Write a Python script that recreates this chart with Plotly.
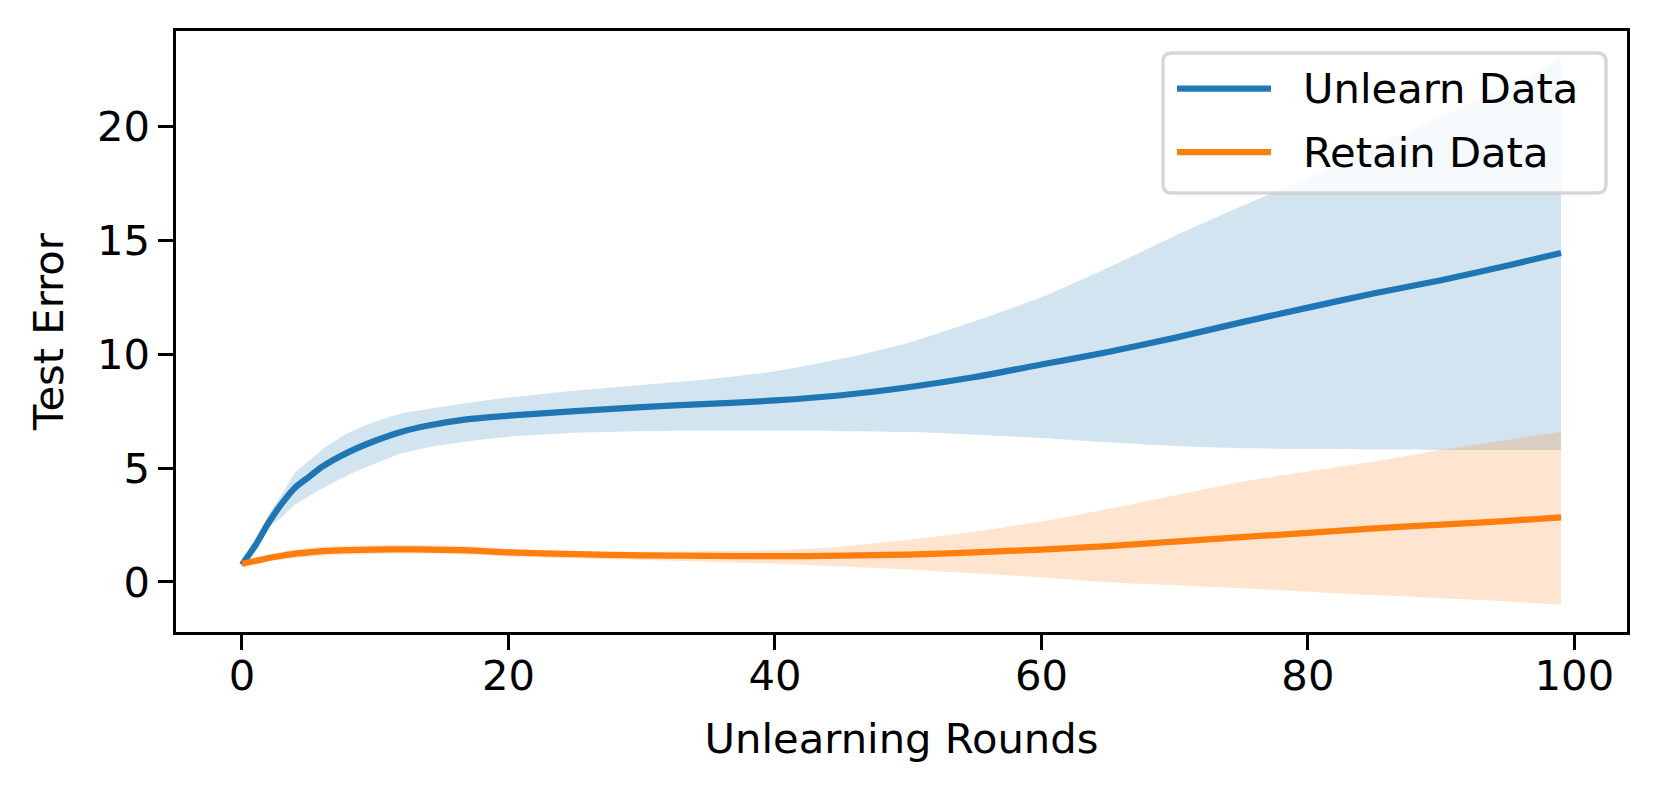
import plotly.graph_objects as go

# ---- data ----
rounds = [0, 1, 2, 3, 4, 5, 6, 8, 10, 12, 14, 17, 20, 25, 30, 35, 40, 45, 50,
          55, 60, 65, 70, 75, 80, 85, 90, 95, 99]

unlearn_mean = [0.75, 1.6, 2.6, 3.45, 4.15, 4.6, 5.05, 5.7, 6.2, 6.6, 6.87, 7.15, 7.3,
                7.5, 7.68, 7.82, 7.97, 8.2, 8.55, 9.0, 9.55, 10.1, 10.72, 11.4,
                12.05, 12.68, 13.25, 13.9, 14.45]
unlearn_upper = [0.8, 1.8, 2.95, 3.85, 4.8, 5.3, 5.8, 6.55, 7.05, 7.4, 7.6, 7.87, 8.1,
                 8.4, 8.65, 8.9, 9.25, 9.8, 10.5, 11.45, 12.5, 13.8, 15.2, 16.5,
                 17.75, 19.1, 20.45, 21.75, 23.0]
unlearn_lower = [0.65, 1.5, 2.4, 2.85, 3.4, 3.75, 4.1, 4.7, 5.2, 5.65, 5.92, 6.18, 6.38,
                 6.55, 6.62, 6.65, 6.65, 6.62, 6.58, 6.47, 6.32, 6.13, 5.97, 5.87,
                 5.84, 5.82, 5.8, 5.79, 5.79]

retain_mean = [0.8, 0.92, 1.05, 1.15, 1.24, 1.3, 1.35, 1.4, 1.42, 1.43, 1.42, 1.39, 1.3,
               1.22, 1.17, 1.14, 1.13, 1.15, 1.2, 1.3, 1.42, 1.57, 1.77, 1.97,
               2.15, 2.35, 2.52, 2.68, 2.84]
retain_upper = [0.9, 1.05, 1.2, 1.32, 1.42, 1.5, 1.55, 1.6, 1.62, 1.63, 1.62, 1.57,
                1.45, 1.36, 1.33, 1.35, 1.4, 1.55, 1.85, 2.2, 2.65, 3.2, 3.8,
                4.4, 4.85, 5.3, 5.8, 6.25, 6.6]
retain_lower = [0.7, 0.8, 0.9, 0.98, 1.05, 1.1, 1.15, 1.2, 1.23, 1.25, 1.24, 1.2,
                1.12, 1.03, 0.96, 0.88, 0.8, 0.68, 0.55, 0.38, 0.2, -0.02, -0.15,
                -0.28, -0.43, -0.58, -0.72, -0.86, -1.0]

series_names = ["Unlearn Data", "Retain Data"]
x_ticks = [0, 20, 40, 60, 80, 100]
y_ticks = [0, 5, 10, 15, 20]

BLUE = "#1f77b4"
ORANGE = "#ff7f0e"
FONT = "DejaVu Sans"
FS = 41.7
SMOOTH = dict(shape="spline", smoothing=0.6)

# plot-area geometry in page pixels (page body has an 8px margin)
BODY = 8
FIG_W, FIG_H = 1651, 787
PL, PR, PT, PB = 176, 1627, 31, 632


def px(xp):
    return (xp - PL) / (PR - PL)


def py(yp):
    return (PB - yp) / (PB - PT)


fig = go.Figure()


def add_band(x, lo, hi, rgba):
    fig.add_trace(go.Scatter(x=x, y=lo, mode="lines", line=dict(width=0, **SMOOTH),
                             hoverinfo="skip", showlegend=False))
    fig.add_trace(go.Scatter(x=x, y=hi, mode="lines", line=dict(width=0, **SMOOTH),
                             fill="tonexty", fillcolor=rgba,
                             hoverinfo="skip", showlegend=False))


fig.add_trace(go.Scatter(x=rounds, y=unlearn_mean, mode="lines", name=series_names[0],
                         line=dict(color=BLUE, width=6.25, **SMOOTH), showlegend=False))
add_band(rounds, unlearn_lower, unlearn_upper, "rgba(31,119,180,0.2)")
fig.add_trace(go.Scatter(x=rounds, y=retain_mean, mode="lines", name=series_names[1],
                         line=dict(color=ORANGE, width=6.25, **SMOOTH), showlegend=False))
add_band(rounds, retain_lower, retain_upper, "rgba(255,127,14,0.2)")

axis_common = dict(showgrid=False, zeroline=False, showline=True, linecolor="black",
                   linewidth=3, mirror=True, ticks="outside", ticklen=14.6,
                   tickwidth=3, tickcolor="black", automargin=False,
                   tickfont=dict(family=FONT, size=FS, color="black"))

# ---- legend drawn as a rounded box with line samples and text ----
bx0, bx1, by0, by1, r = 1163, 1606, 53, 193, 9
rx = r / (PR - PL)
ry = r / (PB - PT)
X0, X1, Y0, Y1 = px(bx0), px(bx1), py(by1), py(by0)
path = (f"M{X0 + rx},{Y0} L{X1 - rx},{Y0} Q{X1},{Y0} {X1},{Y0 + ry} "
        f"L{X1},{Y1 - ry} Q{X1},{Y1} {X1 - rx},{Y1} L{X0 + rx},{Y1} "
        f"Q{X0},{Y1} {X0},{Y1 - ry} L{X0},{Y0 + ry} Q{X0},{Y0} {X0 + rx},{Y0} Z")
shapes = [dict(type="path", path=path, xref="paper", yref="paper", layer="above",
               fillcolor="rgba(255,255,255,0.8)",
               line=dict(color="rgba(204,204,204,0.8)", width=3.3))]
annotations = []
rows_y = [88.5, 152]
for name, color, ry_px in zip(series_names, [BLUE, ORANGE], rows_y):
    shapes.append(dict(type="line", xref="paper", yref="paper", layer="above",
                       x0=px(1177), x1=px(1271), y0=py(ry_px), y1=py(ry_px),
                       line=dict(color=color, width=6.25)))
    annotations.append(dict(text=name, xref="paper", yref="paper", x=px(1301),
                            y=py(ry_px), xanchor="left", yanchor="middle",
                            showarrow=False, font=dict(family=FONT, size=FS,
                                                       color="black")))

fig.update_layout(
    width=FIG_W, height=FIG_H,
    margin=dict(l=PL - BODY, r=FIG_W - (PR - BODY), t=PT - BODY,
                b=FIG_H - (PB - BODY)),
    paper_bgcolor="white", plot_bgcolor="white",
    font=dict(family=FONT, size=FS, color="black"),
    xaxis=dict(range=[-4.95, 103.95], tickvals=x_ticks,
               title=dict(text="Unlearning Rounds", standoff=26,
                          font=dict(family=FONT, size=FS)),
               ticklabelstandoff=-10, **axis_common),
    yaxis=dict(range=[-2.2, 24.2], tickvals=y_ticks,
               title=dict(text="Test Error", standoff=21,
                          font=dict(family=FONT, size=FS)),
               ticklabelstandoff=0, **axis_common),
    shapes=shapes,
    annotations=annotations,
    showlegend=False,
)

fig.write_html("out.html")
